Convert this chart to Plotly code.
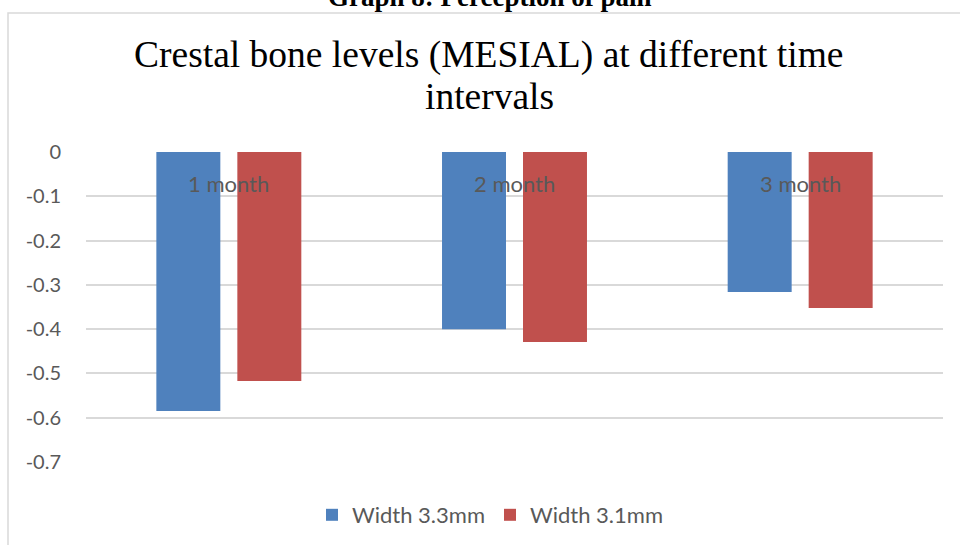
import plotly.graph_objects as go

categories = ["1 month", "2 month", "3 month"]
series_names = ["Width 3.3mm", "Width 3.1mm"]
width_33 = [-0.585, -0.40, -0.316]
width_31 = [-0.517, -0.429, -0.352]
y_ticks = [0, -0.1, -0.2, -0.3, -0.4, -0.5, -0.6, -0.7]
colors = ["#4F81BD", "#C0504D"]

W, H = 960, 545
PX0, PX1, PY0, PY1 = 86, 943, 152, 462   # plot area in page pixels
L, R, T, B = PX0, W - PX1, PY0, H - PY1
pw, ph = W - L - R, H - T - B

def px(x):
    return (x - PX0) / pw

def py(y):
    return (PY1 - y) / ph

fig = go.Figure()
for name, vals, c in zip(series_names, [width_33, width_31], colors):
    fig.add_trace(go.Bar(x=categories, y=vals, name=name, marker=dict(color=c, line=dict(width=0))))

for cat in categories:
    fig.add_annotation(x=cat, y=0, xref="x", yref="y", text=cat, showarrow=False,
                       yanchor="middle", yshift=-31,
                       font=dict(family="Lato, Carlito, sans-serif", size=22, color="#595959"))

# header text partially cut at top
fig.add_annotation(x=px(490), y=py(-3), xref="paper", yref="paper", text="<b>Graph 8: Perception of pain</b>",
                   showarrow=False, xanchor="center", yanchor="middle",
                   font=dict(family="Liberation Serif", size=27, color="#000000"))

# title (two lines)
title_lines = ["Crestal bone levels (MESIAL) at different time", "intervals"]
for line, yc in zip(title_lines, [55, 96]):
    fig.add_annotation(x=px(489), y=py(yc), xref="paper", yref="paper", text=line,
                       showarrow=False, xanchor="center", yanchor="middle",
                       font=dict(family="Liberation Serif", size=37.5, color="#000000"))

# chart border
fig.add_shape(type="rect", xref="paper", yref="paper", x0=px(8), x1=px(1000), y0=py(600), y1=py(13),
              line=dict(color="#D9D9D9", width=1.5), fillcolor="rgba(0,0,0,0)", layer="below")

fig.update_layout(
    width=W, height=H,
    margin=dict(l=L, r=R, t=T, b=B, pad=0, autoexpand=False),
    paper_bgcolor="white", plot_bgcolor="white",
    barmode="group", bargap=0.433, bargroupgap=0.21,
    showlegend=True,
    legend=dict(orientation="h", x=px(490.5), xanchor="center", y=py(515), yanchor="middle",
                font=dict(family="Lato, Carlito, sans-serif", size=22, color="#595959"),
                itemwidth=30, tracegroupgap=0),
    xaxis=dict(showticklabels=False, showgrid=False, zeroline=False, showline=False, ticks=""),
    yaxis=dict(range=[-0.7, 0], tickvals=y_ticks, ticktext=[str(v) for v in y_ticks],
               showgrid=True, gridcolor="#D9D9D9", gridwidth=1.5, zeroline=False,
               showline=False, ticks="", ticklabelstandoff=24,
               tickfont=dict(family="Lato, Carlito, sans-serif", size=20, color="#595959")),
)

fig.write_html("out.html", config={"displayModeBar": False},
               post_script="document.body.style.margin='0';document.body.style.overflow='hidden';")
